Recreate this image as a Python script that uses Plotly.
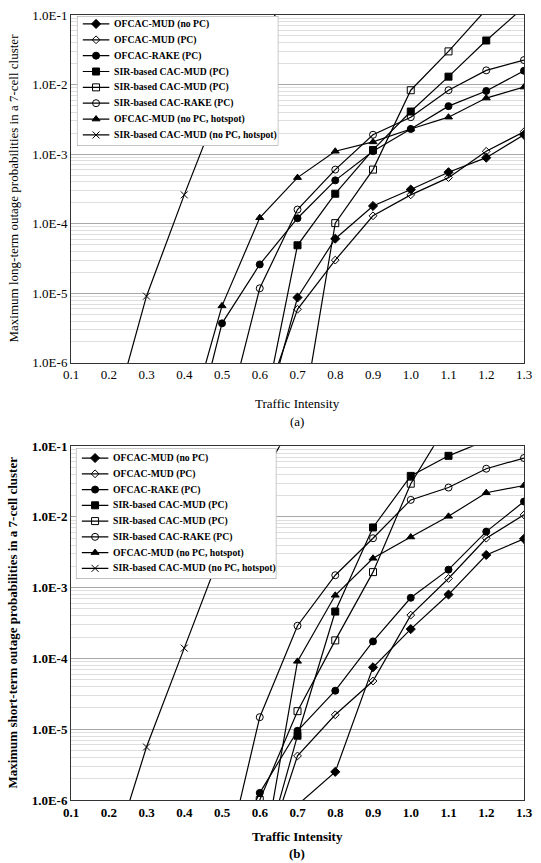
import plotly.graph_objects as go

# ---------------- series definitions ----------------
names = ["OFCAC-MUD (no PC)", "OFCAC-MUD (PC)", "OFCAC-RAKE (PC)",
         "SIR-based CAC-MUD (PC)", "SIR-based CAC-MUD (PC)",
         "SIR-based CAC-RAKE (PC)", "OFCAC-MUD (no PC, hotspot)",
         "SIR-based CAC-MUD (no PC, hotspot)"]
symbols = ["diamond", "diamond-open", "circle", "square", "square-open",
           "circle-open", "triangle-up", "x-thin-open"]
sizes = [7, 6, 7, 7, 7, 7, 7, 7]

# ---------------- data: panel (a) long-term outage ----------------
a_x = [
    [0.6, 0.7, 0.8, 0.9, 1.0, 1.1, 1.2, 1.3],
    [0.6, 0.7, 0.8, 0.9, 1.0, 1.1, 1.2, 1.3],
    [0.4, 0.5, 0.6, 0.7, 0.8, 0.9, 1.0, 1.1, 1.2, 1.3],
    [0.6, 0.7, 0.8, 0.9, 1.0, 1.1, 1.2, 1.3],
    [0.7, 0.8, 0.9, 1.0, 1.1, 1.2],
    [0.5, 0.6, 0.7, 0.8, 0.9, 1.0, 1.1, 1.2, 1.3],
    [0.4, 0.5, 0.6, 0.7, 0.8, 0.9, 1.0, 1.1, 1.2, 1.3],
    [0.2, 0.3, 0.4, 0.5, 0.6, 0.7],
]
a_y = [
    [8.7e-8, 8.7e-6, 6.1e-5, 1.8e-4, 3.1e-4, 5.5e-4, 8.9e-4, 1.9e-3],
    [1.7e-7, 5.9e-6, 3.0e-5, 1.3e-4, 2.6e-4, 4.6e-4, 1.1e-3, 2.1e-3],
    [2.6e-8, 3.7e-6, 2.6e-5, 1.2e-4, 4.2e-4, 1.1e-3, 2.3e-3, 4.9e-3, 8.1e-3, 1.58e-2],
    [1.0e-7, 4.9e-5, 2.7e-4, 1.15e-3, 4.1e-3, 1.3e-2, 4.3e-2, 0.13],
    [6.0e-8, 1.02e-4, 6.0e-4, 8.3e-3, 3.0e-2, 0.12],
    [8.5e-8, 1.18e-5, 1.6e-4, 6.0e-4, 1.9e-3, 3.4e-3, 8.3e-3, 1.6e-2, 2.25e-2],
    [8.0e-8, 6.6e-6, 1.22e-4, 4.6e-4, 1.1e-3, 1.5e-3, 2.3e-3, 3.4e-3, 6.4e-3, 9.2e-3],
    [1.0e-7, 9.1e-6, 2.6e-4, 6.3e-3, 4.5e-2, 0.32],
]

# ---------------- data: panel (b) short-term outage ----------------
b_x = [
    [0.7, 0.8, 0.9, 1.0, 1.1, 1.2, 1.3],
    [0.6, 0.7, 0.8, 0.9, 1.0, 1.1, 1.2, 1.3],
    [0.5, 0.6, 0.7, 0.8, 0.9, 1.0, 1.1, 1.2, 1.3],
    [0.6, 0.7, 0.8, 0.9, 1.0, 1.1, 1.2],
    [0.6, 0.7, 0.8, 0.9, 1.0, 1.1],
    [0.5, 0.6, 0.7, 0.8, 0.9, 1.0, 1.1, 1.2, 1.3],
    [0.6, 0.7, 0.8, 0.9, 1.0, 1.1, 1.2, 1.3],
    [0.2, 0.3, 0.4, 0.5, 0.6, 0.7],
]
b_y = [
    [8.5e-7, 2.5e-6, 7.5e-5, 2.6e-4, 8.0e-4, 2.9e-3, 4.9e-3],
    [1.0e-7, 4.2e-6, 1.6e-5, 4.8e-5, 4.1e-4, 1.35e-3, 5.0e-3, 1.07e-2],
    [1.0e-7, 1.26e-6, 9.5e-6, 3.5e-5, 1.74e-4, 7.2e-4, 1.8e-3, 6.2e-3, 1.65e-2],
    [1.0e-7, 8.1e-6, 4.6e-4, 7.1e-3, 3.8e-2, 7.3e-2, 0.12],
    [1.0e-6, 1.8e-5, 1.8e-4, 1.66e-3, 2.95e-2, 0.22],
    [8.0e-8, 1.48e-5, 2.9e-4, 1.5e-3, 5.0e-3, 1.74e-2, 2.6e-2, 4.8e-2, 6.8e-2],
    [8.0e-8, 9.1e-5, 7.8e-4, 2.6e-3, 5.2e-3, 1.02e-2, 2.2e-2, 2.78e-2],
    [1.1e-7, 5.6e-6, 1.4e-4, 3.5e-3, 3.2e-2, 0.28],
]

x_ticks = [0.1, 0.2, 0.3, 0.4, 0.5, 0.6, 0.7, 0.8, 0.9, 1.0, 1.1, 1.2, 1.3]
x_labels = ["0.1", "0.2", "0.3", "0.4", "0.5", "0.6", "0.7", "0.8", "0.9",
            "1.0", "1.1", "1.2", "1.3"]
y_ticks = [1e-6, 1e-5, 1e-4, 1e-3, 1e-2, 1e-1]
y_labels = ["1.0E-6", "1.0E-5", "1.0E-4", "1.0E-3", "1.0E-2", "1.0E-1"]
minor_vals = [k * 10.0 ** e for e in range(-6, -1) for k in range(2, 10)]

FONT = "Liberation Serif, Times New Roman, serif"
W, H = 541, 863
ML, MR, MT, MB = 71, 9, 8, 63
PW, PH = W - ML - MR, H - MT - MB


def px_x(px):
    return (px - ML) / PW


def px_y(py):
    return (H - MB - py) / PH


fig = go.Figure()
for i in range(8):
    fig.add_trace(go.Scatter(
        x=a_x[i], y=a_y[i], mode="lines+markers", name=names[i],
        line=dict(color="black", width=1.2),
        marker=dict(symbol=symbols[i], size=sizes[i], color="black",
                    line=dict(color="black", width=1)),
        xaxis="x", yaxis="y", showlegend=False))
for i in range(8):
    fig.add_trace(go.Scatter(
        x=b_x[i], y=b_y[i], mode="lines+markers", name=names[i],
        line=dict(color="black", width=1.2),
        marker=dict(symbol=symbols[i], size=sizes[i], color="black",
                    line=dict(color="black", width=1)),
        xaxis="x2", yaxis="y2", showlegend=False))

annotations = []

# ---------------- custom legends (drawn in their own overlay axes) ----------------
def add_legend(xa, ya, box, first, step):
    left, right, top, bottom = box
    bw, bh = right - left, bottom - top
    fig.add_trace(go.Scatter(
        x=[0, bw, bw, 0, 0], y=[0, 0, bh, bh, 0], mode="lines",
        fill="toself", fillcolor="white", line=dict(color="#8a8a8a", width=1),
        xaxis=xa, yaxis=ya, showlegend=False, hoverinfo="skip"))
    for i in range(8):
        yc = first + step * i
        fig.add_trace(go.Scatter(
            x=[6, 33], y=[yc, yc], mode="lines",
            line=dict(color="black", width=1.2),
            xaxis=xa, yaxis=ya, showlegend=False, hoverinfo="skip"))
        fig.add_trace(go.Scatter(
            x=[19.5], y=[yc], mode="markers",
            marker=dict(symbol=symbols[i], size=sizes[i], color="black",
                        line=dict(color="black", width=1)),
            xaxis=xa, yaxis=ya, showlegend=False, hoverinfo="skip"))
        annotations.append(dict(
            text=names[i], x=36, y=yc, xref=xa, yref=ya, xanchor="left",
            yanchor="middle", showarrow=False,
            font=dict(family=FONT, size=9.7, color="black", weight="bold")))
    return dict(domain=[px_x(left), px_x(right)], range=[0, bw], visible=False,
                fixedrange=True), \
           dict(domain=[px_y(bottom), px_y(top)], range=[bh, 0], visible=False,
                fixedrange=True)


leg1_x, leg1_y = add_legend("x3", "y3", (77, 282, 9, 140), 8.0, 16.0)
leg2_x, leg2_y = add_legend("x4", "y4", (76, 280, 445, 577), 10.0, 15.9)


def xaxis(anchor, bold=False):
    return dict(anchor=anchor, domain=[0, 1], range=[0.1, 1.3],
                tickmode="array", tickvals=x_ticks, ticktext=x_labels,
                showgrid=False, zeroline=False, showline=True, mirror=True,
                linecolor="#333", linewidth=1, ticks="",
                tickfont=dict(family=FONT, size=13, color="black",
                              weight="bold" if bold else "normal"))


def yaxis(anchor, dom, bold=False):
    return dict(anchor=anchor, domain=dom, type="log", range=[-6, -1],
                tickmode="array", tickvals=y_ticks, ticktext=y_labels,
                showgrid=True, gridcolor="#a8a8a8", gridwidth=1,
                minor=dict(tickmode="array", tickvals=minor_vals,
                           showgrid=True, gridcolor="#dedede", gridwidth=1,
                           ticks=""),
                zeroline=False, showline=True, mirror=True,
                linecolor="#333", linewidth=1, ticks="",
                tickfont=dict(family=FONT, size=13, color="black",
                              weight="bold" if bold else "normal"))


def text_ann(text, xpx, ypx, bold=False, angle=0):
    return dict(text=text, x=px_x(xpx), y=px_y(ypx), xref="paper", yref="paper",
                xanchor="center", yanchor="middle", showarrow=False,
                textangle=angle,
                font=dict(family=FONT, size=13, color="black",
                          weight="bold" if bold else "normal"))


annotations += [
    text_ann("Traffic Intensity", 301, 400),
    text_ann("(a)", 301, 418),
    text_ann("Traffic Intensity", 301, 837, bold=True),
    text_ann("(b)", 301, 854, bold=True),
    text_ann("Maximum long-term outage probabilities in a 7-cell cluster", 12, 183, angle=-90),
    text_ann("Maximum short-term outage probabilities in a 7-cell cluster", 12, 621,
             bold=True, angle=-90),
]

fig.update_layout(
    width=W, height=H,
    margin=dict(l=ML, r=MR, t=MT, b=MB),
    plot_bgcolor="white", paper_bgcolor="white",
    showlegend=False,
    xaxis=xaxis("y"), yaxis=yaxis("x", [px_y(359), 1.0]),
    xaxis2=xaxis("y2", bold=True), yaxis2=yaxis("x2", [0.0, px_y(443)], bold=True),
    xaxis3=dict(anchor="y3", **leg1_x), yaxis3=dict(anchor="x3", **leg1_y),
    xaxis4=dict(anchor="y4", **leg2_x), yaxis4=dict(anchor="x4", **leg2_y),
    annotations=annotations,
)

fig.write_html("out.html")
